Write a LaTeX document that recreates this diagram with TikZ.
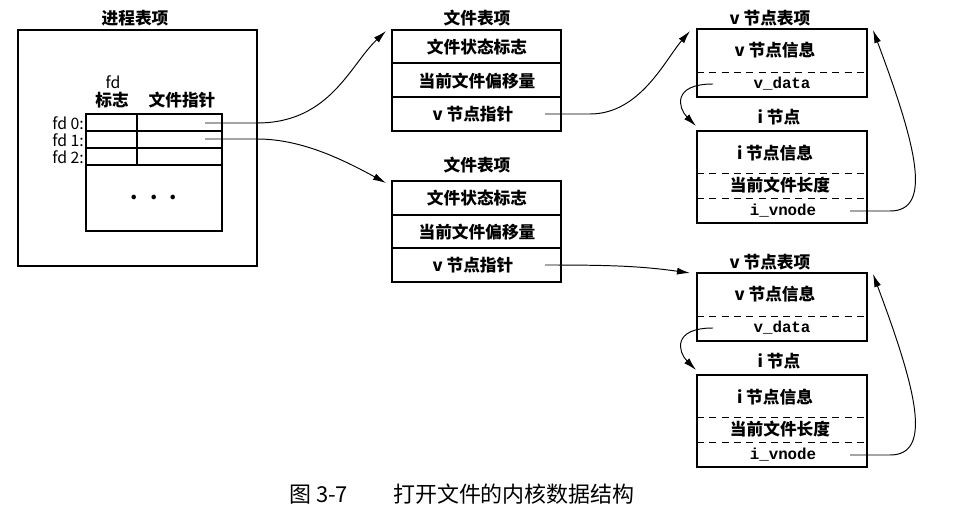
\documentclass[tikz,border=0pt]{standalone}
\usepackage{fontspec}
\setmainfont{Noto Sans CJK SC}
\setmonofont{Liberation Mono}
\usetikzlibrary{arrows.meta}

\begin{document}
\begin{tikzpicture}[x=0.02cm,y=-0.02cm]

\tikzstyle{title}=[font=\fontsize{9.5}{11}\selectfont\bfseries, inner sep=1pt]
\tikzstyle{cell}=[font=\fontsize{9.5}{11}\selectfont\bfseries, inner sep=1pt]
\tikzstyle{field}=[font=\fontsize{9}{11}\selectfont\ttfamily\bfseries, inner sep=1pt]
\tikzstyle{fdlabel}=[font=\fontsize{9}{10}\selectfont, anchor=east, inner sep=1pt]
\tikzstyle{box}=[line width=0.75pt]
\tikzstyle{sep}=[line width=0.5pt, dash pattern=on 4pt off 3pt]
\tikzstyle{connect}=[-{Latex[length=2.6mm,width=1.4mm]}, line width=0.55pt]

\useasboundingbox (0,0) rectangle (974,520);

% process table entry
\node[title] (proc) at (135,18) {进程表项};
\draw[box] (18,30) rectangle (257,266);
\draw[box] (86,114) rectangle (222,231);
\draw[box] (86,131) -- (222,131);
\draw[box] (86,148) -- (222,148);
\draw[box] (86,165) -- (222,165);
\draw[box] (137,114) -- (137,165);

\node[fdlabel, anchor=center] (fdhead) at (113,82) {fd};
\node[cell] (flaghead) at (112,100) {标志};
\node[cell] (ptrhead) at (182,100) {文件指针};
\node[fdlabel] (fd0) at (86,123) {fd 0:};
\node[fdlabel] (fd1) at (86,140) {fd 1:};
\node[fdlabel] (fd2) at (86,157) {fd 2:};
\node[cell, font=\fontsize{12}{12}\selectfont\bfseries] (dots) at (154,197) {.\hspace{2.4mm}.\hspace{2.4mm}.};

\coordinate (p0) at (205,123);
\coordinate (p1) at (205,139);

% file table entry 1
\node[title] (ft1) at (477,18) {文件表项};
\draw[box] (392,30) rectangle (561,131);
\draw[box] (392,63) -- (561,63);
\draw[box] (392,97) -- (561,97);
\node[cell] (ft1flag) at (477,47) {文件状态标志};
\node[cell] (ft1off) at (477,81) {当前文件偏移量};
\node[cell] (ft1vp) at (473,114) {v 节点指针};
\coordinate (ft1in) at (386,31);
\coordinate (ft1out) at (545,114);

% file table entry 2
\node[title] (ft2) at (477,165) {文件表项};
\draw[box] (392,181) rectangle (561,282);
\draw[box] (392,215) -- (561,215);
\draw[box] (392,248) -- (561,248);
\node[cell] (ft2flag) at (477,198) {文件状态标志};
\node[cell] (ft2off) at (477,232) {当前文件偏移量};
\node[cell] (ft2vp) at (473,265) {v 节点指针};
\coordinate (ft2in) at (386,183);
\coordinate (ft2out) at (545,265);

% v-node / i-node 1
\node[title] (vn1) at (770,18) {v 节点表项};
\draw[box] (697,29) rectangle (867,97);
\draw[sep] (697,72) -- (867,72);
\node[cell] (vn1info) at (775,50) {v 节点信息};
\node[field] (vn1data) at (782,84) {v\_data};
\coordinate (vn1in) at (690,31);
\coordinate (vn1out) at (713,84);
\coordinate (vn1back) at (873,30);

\node[title] (in1) at (779,117) {i 节点};
\draw[box] (697,131) rectangle (867,223);
\draw[sep] (697,173) -- (867,173);
\draw[sep] (697,198) -- (867,198);
\node[cell] (in1info) at (775,153) {i 节点信息};
\node[cell] (in1size) at (780,185) {当前文件长度};
\node[field] (in1vn) at (783,211) {i\_vnode};
\coordinate (in1in) at (696,126);
\coordinate (in1out) at (850,211);

% v-node / i-node 2
\node[title] (vn2) at (770,262) {v 节点表项};
\draw[box] (697,273) rectangle (867,341);
\draw[sep] (697,316) -- (867,316);
\node[cell] (vn2info) at (775,294) {v 节点信息};
\node[field] (vn2data) at (782,328) {v\_data};
\coordinate (vn2in) at (690,273);
\coordinate (vn2out) at (713,328);
\coordinate (vn2back) at (873,274);

\node[title] (in2) at (779,361) {i 节点};
\draw[box] (697,375) rectangle (867,467);
\draw[sep] (697,417) -- (867,417);
\draw[sep] (697,442) -- (867,442);
\node[cell] (in2info) at (775,397) {i 节点信息};
\node[cell] (in2size) at (780,429) {当前文件长度};
\node[field] (in2vn) at (783,455) {i\_vnode};
\coordinate (in2in) at (696,370);
\coordinate (in2out) at (850,455);

% pointers
\draw[connect] (p0) -- (257,123) .. controls (330,123) and (350,65) .. (ft1in);
\draw[connect] (p1) -- (257,139) .. controls (300,139) and (340,158) .. (ft2in);
\draw[connect] (ft1out) -- (590,114) .. controls (640,114) and (665,60) .. (vn1in);
\draw[connect] (ft2out) .. controls (610,265) and (640,266) .. (vn2in);

\draw[connect] (vn1out) .. controls (672,84) and (678,108) .. (in1in);
\draw[connect] (vn2out) .. controls (672,328) and (678,352) .. (in2in);
\draw[connect] (in1out) -- (890,211) .. controls (932,211) and (918,150) .. (vn1back);
\draw[connect] (in2out) -- (890,455) .. controls (932,455) and (918,394) .. (vn2back);

% caption
\node[font=\fontsize{12.5}{14}\selectfont] (caption) at (462,494) {图 3-7\hspace{9mm}打开文件的内核数据结构};

\end{tikzpicture}
\end{document}
